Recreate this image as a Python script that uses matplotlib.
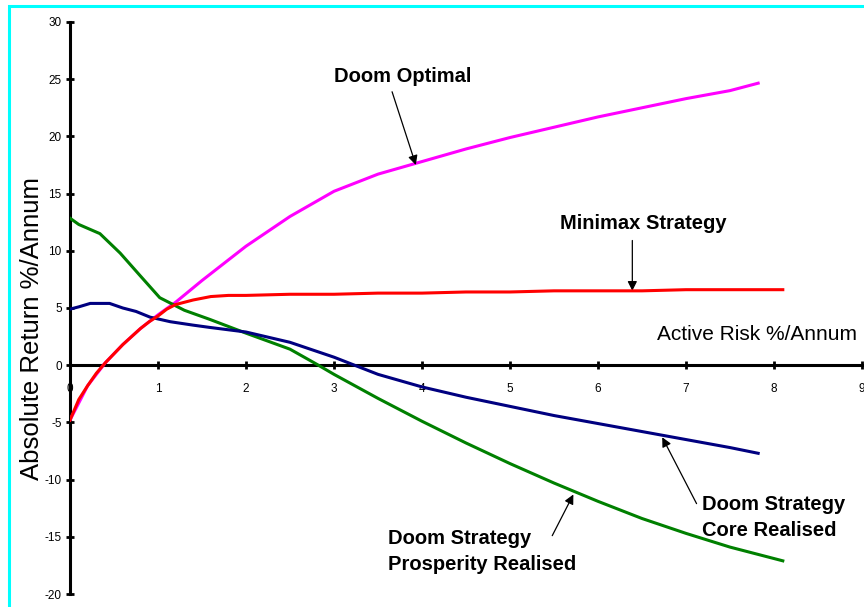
import matplotlib
matplotlib.use("Agg")
import matplotlib.pyplot as plt
from matplotlib.patches import Rectangle

plt.rcParams['font.family'] = ['Liberation Sans', 'DejaVu Sans']
plt.rcParams['axes.unicode_minus'] = False

# Doom Optimal (magenta)
opt_x = [0, 0.2, 0.4, 0.6, 0.8, 1.0, 1.2, 1.5, 2.0, 2.5, 3.0, 3.5, 4.0,
         4.5, 5.0, 5.5, 6.0, 6.5, 7.0, 7.5, 7.82]
opt_y = [-4.8, -1.8, 0.2, 1.8, 3.2, 4.4, 5.5, 7.4, 10.4, 13.0, 15.2, 16.7,
         17.8, 18.9, 19.9, 20.8, 21.7, 22.5, 23.3, 24.0, 24.65]

# Minimax Strategy (red)
mm_x = [0, 0.1, 0.2, 0.3, 0.4, 0.5, 0.6, 0.7, 0.8, 0.9, 1.0, 1.1, 1.2, 1.4,
        1.6, 1.8, 2.0, 2.5, 3.0, 3.5, 4.0, 4.5, 5.0, 5.5, 6.0, 6.5, 7.0,
        7.5, 8.1]
mm_y = [-4.8, -3.0, -1.8, -0.7, 0.2, 1.0, 1.8, 2.5, 3.2, 3.8, 4.3, 4.9,
        5.3, 5.7, 6.0, 6.1, 6.1, 6.2, 6.2, 6.3, 6.3, 6.4, 6.4, 6.5, 6.5,
        6.5, 6.6, 6.6, 6.6]

# Doom Strategy Prosperity Realised (green)
pr_x = [0, 0.1, 0.34, 0.57, 0.8, 1.02, 1.3, 1.59, 2.0, 2.5, 2.8, 3.0, 3.5,
        4.0, 4.5, 5.0, 5.5, 6.0, 6.5, 7.0, 7.5, 8.1]
pr_y = [12.85, 12.3, 11.5, 9.8, 7.8, 5.9, 4.8, 4.0, 2.8, 1.4, 0.1, -0.8,
        -2.9, -4.9, -6.8, -8.6, -10.3, -11.9, -13.4, -14.7, -15.9, -17.1]

# Doom Strategy Core Realised (navy)
cr_x = [0, 0.1, 0.23, 0.45, 0.6, 0.75, 0.91, 1.14, 1.4, 1.59, 2.0, 2.5,
        3.0, 3.2, 3.5, 4.0, 4.5, 5.0, 5.5, 6.0, 6.5, 7.0, 7.5, 7.82]
cr_y = [4.9, 5.1, 5.4, 5.4, 5.0, 4.7, 4.2, 3.8, 3.5, 3.3, 2.9, 2.0, 0.7,
        0.1, -0.8, -1.9, -2.8, -3.6, -4.4, -5.1, -5.8, -6.5, -7.2, -7.7]

x_ticks = list(range(0, 10))
y_ticks = list(range(-20, 31, 5))

fig = plt.figure(figsize=(8.64, 6.07), dpi=100)
ax = fig.add_axes([0.081, 0.0214, 0.9167, 0.9424])

ax.plot(opt_x, opt_y, color='#ff00ff', lw=2.2, zorder=3)
ax.plot(mm_x, mm_y, color='#ff0000', lw=2.2, zorder=4)
ax.plot(pr_x, pr_y, color='#008000', lw=2.2, zorder=3)
ax.plot(cr_x, cr_y, color='#000080', lw=2.2, zorder=3)

ax.set_xlim(0, 9)
ax.set_ylim(-20, 30)
ax.set_xticks(x_ticks)
ax.set_yticks(y_ticks)

ax.spines['top'].set_visible(False)
ax.spines['right'].set_visible(False)
ax.spines['bottom'].set_position(('data', 0))
for s in ('left', 'bottom'):
    ax.spines[s].set_linewidth(2.2)
    ax.spines[s].set_zorder(2)
ax.tick_params(direction='inout', length=6, width=2, labelsize=8.5)
ax.tick_params(axis='x', pad=10)
ax.tick_params(axis='y', pad=3)

fig.text(657 / 864, 1 - 335 / 607, 'Active Risk %/Annum', fontsize=15,
         va='center', ha='left')
fig.text(32 / 864, 1 - 328 / 607, 'Absolute Return %/Annum', rotation=90,
         fontsize=18.5, va='center', ha='center')

arrow = dict(arrowstyle='-|>', color='black', lw=0.9, mutation_scale=14,
             shrinkA=0, shrinkB=0)
bold = dict(fontsize=14.5, fontweight='bold')

ax.annotate('', xy=(3.93, 17.5), xytext=(3.66, 23.9), arrowprops=arrow)
ax.text(3.78, 25.2, 'Doom Optimal', ha='center', va='center', **bold)

ax.annotate('', xy=(6.39, 6.5), xytext=(6.39, 10.9), arrowprops=arrow)
ax.text(6.51, 12.4, 'Minimax Strategy', ha='center', va='center', **bold)

ax.annotate('', xy=(6.73, -6.3), xytext=(7.12, -12.1), arrowprops=arrow)
ax.text(7.18, -13.3, 'Doom Strategy\nCore Realised', ha='left', va='center',
        linespacing=1.45, **bold)

ax.annotate('', xy=(5.72, -11.3), xytext=(5.48, -14.9), arrowprops=arrow)
ax.text(3.61, -16.3, 'Doom Strategy\nProsperity Realised', ha='left',
        va='center', linespacing=1.45, **bold)

fig.patches.append(Rectangle((9 / 864, -0.1), 1.2, 1.1 - 5.5 / 607,
                             transform=fig.transFigure, fill=False,
                             edgecolor='#00ffff', lw=2.2))

fig.savefig('out.png', dpi=100)
